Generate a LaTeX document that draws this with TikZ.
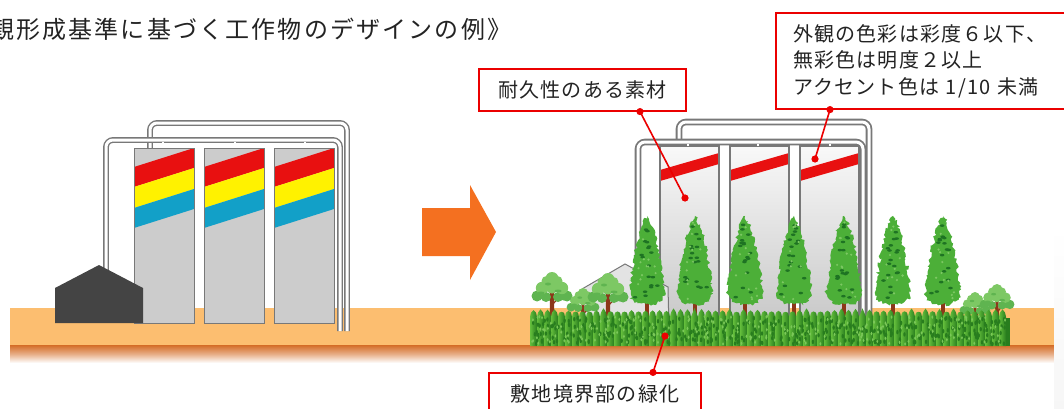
\documentclass[tikz,border=0pt]{standalone}
\usepackage{fontspec}
\setmainfont{Noto Sans CJK JP}
\newfontfamily\titlefont[LetterSpace=9]{Noto Sans CJK JP}
\newfontfamily\labelfont[LetterSpace=6]{Noto Sans CJK JP}
\usetikzlibrary{decorations.pathmorphing,positioning}

\definecolor{inkgray}{RGB}{35,35,35}
\definecolor{groundtan}{RGB}{252,190,112}
\definecolor{groundrim}{RGB}{212,108,38}
\definecolor{silogray}{RGB}{204,204,204}
\definecolor{siloedge}{RGB}{120,120,120}
\definecolor{stripered}{RGB}{232,16,16}
\definecolor{stripeyellow}{RGB}{255,242,0}
\definecolor{stripeblue}{RGB}{18,160,200}
\definecolor{shedgray}{RGB}{68,68,68}
\definecolor{arroworange}{RGB}{244,112,32}
\definecolor{leadred}{RGB}{235,0,0}
\definecolor{leaf}{RGB}{76,175,56}
\definecolor{leafdark}{RGB}{30,115,35}
\definecolor{leaflight}{RGB}{125,200,100}
\definecolor{leafmid}{RGB}{95,180,80}
\definecolor{hedgelight}{RGB}{100,190,60}
\definecolor{hedgedark}{RGB}{40,125,30}
\definecolor{trunkbrown}{RGB}{140,55,25}

\tikzset{
  tube/.style={draw=siloedge, line width=1.4pt, double=white, double distance=3pt, rounded corners=7pt},
  stub/.style={draw=siloedge, line width=0.7pt, double=white, double distance=1.4pt},
  callout/.style={draw=leadred, line width=1.2pt, fill=white, text=inkgray,
    font=\labelfont\fontsize{20}{26.5}\selectfont, inner sep=0pt},
  leader/.style={leadred, line width=1.6pt},
}

% columnar tree: x position of the stem
\newcommand\conifer[1]{%
  \fill[trunkbrown] (#1-1.6,290) rectangle (#1+1.6,318);
  \fill[leaf,decorate,decoration={random steps,segment length=2.2pt,amplitude=1.8pt}]
    (#1,216) .. controls (#1+8,228) and (#1+14,258) .. (#1+17,288)
    .. controls (#1+19,300) and (#1+12,305) .. (#1,304)
    .. controls (#1-12,305) and (#1-19,300) .. (#1-17,288)
    .. controls (#1-14,258) and (#1-8,228) .. cycle;
  \foreach \k in {1,...,18}{%
    \pgfmathsetmacro\yy{224+74*rnd}
    \pgfmathsetmacro\xx{#1+(2*rnd-1)*(1+0.15*(\yy-216))}
    \fill[leafdark] (\xx,\yy) ellipse (2.3 and 1.3);
  }
  \foreach \k in {1,...,12}{%
    \pgfmathsetmacro\yy{222+78*rnd}
    \pgfmathsetmacro\xx{#1+(2*rnd-1)*(1+0.16*(\yy-216))}
    \fill[leaflight] (\xx,\yy) circle (1.2);
  }
}

% small round tree: x, crown top, size
\newcommand\broadtree[3]{%
  \begin{scope}[shift={(#1,#2)},scale=#3]
    \fill[trunkbrown] (-1.6,10) -- (1.6,10) -- (2.4,48) -- (-2.4,48) -- cycle;
    \draw[trunkbrown,line width=1.3pt] (0,30) -- (-9,21) (0,33) -- (10,22);
    \fill[leafmid] (-15,24) circle (5.5) (15,24) circle (5.5) (-6,25) circle (5) (6,25) circle (5);
    \fill[leaflight] (-10,16) circle (6.2) (10,16) circle (6.2) (0,15) circle (6.5);
    \fill[leaflight] (0,6.5) circle (6.5) (-5.5,9) circle (5) (5.5,9) circle (5);
    \fill[leafmid] (-4,12) ellipse (3 and 1.5) (6,19) ellipse (3.5 and 1.5)
      (-11,21) ellipse (3.5 and 1.5) (12,27) ellipse (3 and 1.4);
  \end{scope}}

\begin{document}
\begin{tikzpicture}[x=1pt,y=-1pt]
 \useasboundingbox (0,0) rectangle (1064,409);
 \pgfmathsetseed{11}

 % ground
 \fill[groundtan] (10,308) rectangle (1054,345);
 \shade[top color=groundrim, bottom color=white, middle color=groundrim!55] (10,345) rectangle (1054,363);
 \shade[top color=white, bottom color=gray!7] (1054,225) rectangle (1064,409);

 % before: painted silos
 \draw[tube] (150,148) -- (150,123) -- (347,123) -- (347,331);
 \draw[tube] (106,275) -- (106,140) -- (340,140) -- (340,331);
 \foreach \sx in {134,204,274}{
  \begin{scope}
   \clip (\sx,148) rectangle (\sx+60,323);
   \fill[silogray] (\sx,148) rectangle (\sx+60,323);
   \fill[stripered] (\sx,167) -- (\sx+60,148) -- (\sx+60,168) -- (\sx,187) -- cycle;
   \fill[stripeyellow] (\sx,187) -- (\sx+60,168) -- (\sx+60,189) -- (\sx,208) -- cycle;
   \fill[stripeblue] (\sx,208) -- (\sx+60,189) -- (\sx+60,209) -- (\sx,228) -- cycle;
  \end{scope}
  \draw[siloedge,line width=1pt] (\sx,148) rectangle (\sx+60,323);
 }
 \foreach \sx in {163,235,305}{\draw[stub] (\sx,142) -- (\sx,148);}
 \fill[shedgray] (55,323) -- (55,288) -- (99,265) -- (143,288) -- (143,323) -- cycle;

 \fill[arroworange] (422,208) -- (470,208) -- (470,185) -- (496,232)
   -- (470,280) -- (470,256) -- (422,256) -- cycle;

 % after: plain silos behind planting
 \draw[tube,line width=1.8pt] (679,146) -- (679,122) -- (869,122) -- (869,318);
 \draw[tube,line width=1.8pt] (638,300) -- (638,142) -- (863,142) -- (863,318);
 \foreach \sx in {660,730,800}{
  \shade[top color=gray!5, bottom color=gray!42] (\sx,146) rectangle (\sx+59,318);
  \fill[stripered] (\sx,170) -- (\sx+59,153) -- (\sx+59,164) -- (\sx,181) -- cycle;
  \draw[siloedge,line width=1.2pt] (\sx,146) rectangle (\sx+59,318);
 }
 \foreach \sx in {688,758,830}{\draw[stub] (\sx,144) -- (\sx,146);}
 \filldraw[fill=gray!22,draw=siloedge,line width=1pt]
   (582,330) -- (582,289) -- (625,264) -- (668,287) -- (669,330) -- cycle;

 \broadtree{552}{272}{1}
 \broadtree{583}{288}{0.8}
 \broadtree{608}{273}{1}
 \broadtree{975}{292}{0.75}
 \broadtree{997}{284}{0.85}
 \foreach \tx in {647,695,745,794,844,893,943}{\conifer{\tx}}

 % hedge along the boundary
 \fill[hedgedark] (530,318) rectangle (1010,346);
 \foreach \hx in {530,537,...,1003}{
  \pgfmathsetmacro\tip{308+4*rnd}
  \shade[left color=hedgelight, right color=hedgedark] (\hx,346) -- (\hx,317)
    .. controls (\hx+1,312) .. (\hx+3.5,\tip) .. controls (\hx+6,312) .. (\hx+7,317)
    -- (\hx+7,346) -- cycle;
 }
 \foreach \k in {1,...,420}{
  \pgfmathsetmacro\xx{532+476*rnd}
  \pgfmathsetmacro\yy{318+26*rnd}
  \fill[hedgedark] (\xx,\yy) ellipse (1.2 and 2.2);
 }
 \foreach \k in {1,...,260}{
  \pgfmathsetmacro\xx{532+476*rnd}
  \pgfmathsetmacro\yy{316+28*rnd}
  \fill[hedgelight!85!white] (\xx,\yy) ellipse (1 and 1.8);
 }

 % callouts
 \node[callout, minimum width=207, minimum height=42] (material) at (582.5,90) {耐久性のある素材};
 \node[callout, minimum width=304, minimum height=96, text width=270, align=left] (colour) at (928,61)
   {外観の色彩は彩度６以下、\\無彩色は明度２以上\\アクセント色は 1/10 未満};
 \node[callout, minimum width=212, minimum height=42] (greening) at (595,394) {敷地境界部の緑化};

 \coordinate (materialpt) at (685,198);
 \coordinate (colourpt) at (815,159);
 \coordinate (greeningpt) at (665,336);
 \draw[leader] ([xshift=57.5]material.south) -- (materialpt);
 \draw[leader] ([xshift=-98]colour.south) -- (colourpt);
 \draw[leader] ([xshift=58]greening.north) -- (greeningpt);
 \fill[leadred] ([xshift=57.5]material.south) circle (3.6) (materialpt) circle (3.6)
   ([xshift=-98]colour.south) circle (3.6) (colourpt) circle (3.6)
   ([xshift=58]greening.north) circle (3.6) (greeningpt) circle (3.6);

 \node[anchor=west, inner sep=0pt, text=inkgray, font=\titlefont\fontsize{24}{29}\selectfont]
   (title) at (-10,29) {観形成基準に基づく工作物のデザインの例》};
\end{tikzpicture}
\end{document}
